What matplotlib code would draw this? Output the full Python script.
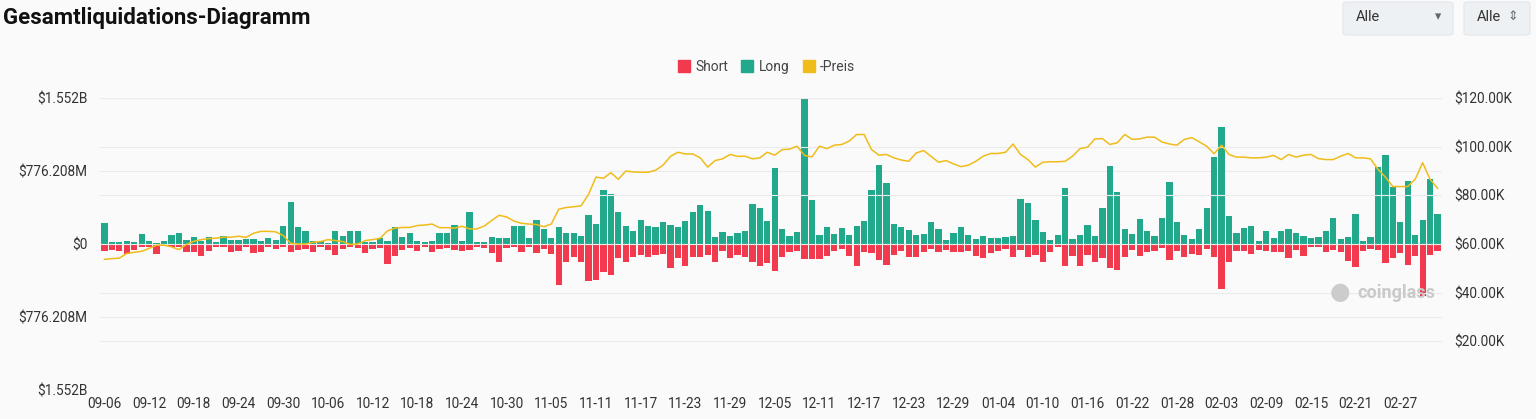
import pandas as pd
import numpy as np
import matplotlib.pyplot as plt
from matplotlib.lines import Line2D
from matplotlib.patches import FancyBboxPatch

plt.rcParams['font.family'] = ['Roboto', 'DejaVu Sans']

# daily values, 2024-09-06 .. 2025-03-04
dates = pd.date_range("2024-09-06", periods=180, freq="D")

# long liquidations, $M (drawn upward)
long_liq = [220, 18, 18, 28, 21, 103, 28, 11, 28, 96, 113, 46, 71, 35, 71, 18, 89, 46, 46, 53,
            53, 35, 64, 42, 195, 443, 177, 138, 35, 35, 11, 135, 85, 135, 142, 18,
            18, 60, 28, 184, 71, 117, 35, 25, 35, 117, 117, 202, 35, 343, 25, 18, 71, 60, 60, 188,
            188, 64, 255, 159, 64, 181, 117, 120, 89, 308, 216, 574, 535, 336, 188, 142,
            255, 195, 177, 237, 202, 177, 248, 343, 411, 347, 78, 124, 89, 113, 142, 428, 379, 248,
            811, 159, 81, 124, 1552, 471, 92, 184, 106, 166, 99, 191, 244, 574, 836, 648, 216, 184,
            145, 96, 103, 230, 156, 42, 113, 181, 99, 53, 81, 64, 67, 71, 89, 478, 435, 258, 124, 42,
            96, 591, 53, 99, 205, 85, 379, 825, 549, 156, 110, 262, 142, 89, 273,
            655, 230, 99, 50, 156, 382, 920, 1246, 297, 113, 166, 195, 35, 135, 67, 142, 163, 113,
            81, 64, 71, 142, 280, 50, 71, 322, 32, 71, 814, 945, 605, 230, 673, 99, 251, 690, 315]

# short liquidations, $M (drawn downward)
short_liq = [78, 60, 78, 103, 60, 35, 35, 106, 18, 35, 35, 89, 89, 124, 71, 35, 35, 89, 71, 35,
             99, 89, 35, 53, 35, 89, 64, 53, 81, 35, 60, 113, 53, 35, 46, 99,
             53, 46, 212, 124, 64, 46, 78, 35, 89, 53, 46, 64, 78, 64, 35, 46, 99, 195, 46, 35,
             89, 35, 96, 53, 110, 432, 195, 142, 195, 389, 379, 301, 329, 152, 195, 135,
             117, 142, 117, 106, 258, 152, 230, 142, 142, 113, 188, 78, 152, 117, 142, 195, 230, 202,
             283, 142, 89, 78, 159, 159, 159, 124, 78, 53, 131, 230, 89, 99, 174, 223, 117, 78,
             142, 142, 89, 53, 89, 64, 89, 89, 71, 124, 152, 99, 71, 53, 135, 64, 135, 113, 188, 81,
             35, 237, 124, 230, 113, 188, 152, 258, 273, 135, 60, 124, 81, 71, 46,
             166, 78, 142, 106, 113, 53, 142, 478, 188, 71, 71, 106, 64, 78, 89, 89, 152, 64,
             124, 28, 28, 89, 64, 89, 177, 248, 71, 53, 64, 202, 152, 96, 223, 124, 549, 117, 71]

# price, $K
price = [53.7, 54.0, 54.2, 56.1, 56.6, 57.0, 58.2, 59.5, 59.5, 58.8, 57.7, 59.8, 61.1, 61.8, 62.2,
         62.4, 62.8, 62.8, 63.2, 62.7, 64.4, 65.2, 65.2, 65.0, 63.5, 60.3, 60.0, 60.0, 60.7, 61.0,
         61.8, 61.4, 61.0, 59.8, 60.0, 61.4,
         61.8, 62.3, 65.4, 66.5, 66.8, 66.8, 67.6, 67.8, 68.2, 66.7, 66.7, 66.5, 67.3, 66.2, 66.2,
         67.4, 69.7, 71.8, 71.1, 69.4, 68.5, 68.2, 68.0, 67.1, 68.2, 74.3, 75.0, 75.3, 75.7, 80.4,
         87.5, 87.0, 89.3, 86.6, 90.0, 89.6,
         89.5, 89.5, 90.3, 92.4, 96.0, 97.7, 97.0, 97.0, 95.4, 91.6, 94.3, 95.0, 96.8, 96.0, 96.1,
         95.0, 95.4, 97.7, 96.5, 98.8, 99.0, 100.2, 96.4, 95.8, 100.2, 99.2, 100.6, 100.9, 102.3,
         105.0, 105.0, 98.8, 96.5, 96.8, 95.4, 94.5,
         94.0, 97.4, 98.4, 96.0, 93.6, 94.3, 92.9, 91.8, 92.4, 94.0, 96.1, 97.2, 97.2, 97.7, 101.1,
         96.8, 94.7, 91.6, 93.6, 93.8, 93.8, 94.0, 96.1, 99.2, 99.8, 103.2, 103.3, 100.9, 101.6,
         105.0, 103.0, 103.2, 103.9, 103.9, 101.9, 101.1,
         100.6, 103.0, 103.7, 102.0, 100.2, 97.1, 100.6, 96.8, 95.7, 95.7, 95.4, 95.4, 95.7, 96.4,
         94.7, 96.8, 95.7, 96.5, 96.8, 95.1, 94.7, 94.7, 96.1, 97.2, 95.4, 95.4, 95.0, 90.7, 87.5,
         83.6, 83.6, 83.6, 86.6, 93.4, 86.6, 82.9]

left_ticks = [-1552.416, -776.208, 0, 776.208, 1552.416]
left_labels = ["$1.552B", "$776.208M", "$0", "$776.208M", "$1.552B"]
right_ticks = [20, 40, 60, 80, 100, 120]
right_labels = ["$20.00K", "$40.00K", "$60.00K", "$80.00K", "$100.00K", "$120.00K"]

green = "#22a98b"
red = "#f23a4e"
gold = "#f0bc1a"
bg = "#fafafa"
txt = "#333333"

fig = plt.figure(figsize=(15.36, 4.19), dpi=100, facecolor=bg)
ax = fig.add_axes([100 / 1536, 29 / 419, 1342 / 1536, 292 / 419])
x = np.arange(len(dates))

ax.bar(x, long_liq, width=0.84, color=green, zorder=3)
ax.bar(x, [-v for v in short_liq], width=0.84, color=red, zorder=3)
ax.set_xlim(-0.6, 179.6)
ax.set_ylim(-1552.416, 1552.416)
ax.set_yticks(left_ticks)
ax.set_yticklabels(left_labels)
ax.set_xticks(x[::6])
ax.set_xticklabels([d.strftime("%m-%d") for d in dates[::6]])
for s in ax.spines.values():
    s.set_visible(False)
ax.tick_params(axis="both", length=0, labelsize=9.8, colors=txt)
ax.tick_params(axis="y", pad=9)
ax.tick_params(axis="x", pad=5)
ax.grid(axis="y", color="#ebebeb", lw=0.8, zorder=0)
ax.set_facecolor(bg)

ax2 = ax.twinx()
ax2.plot(x, price, color=gold, lw=1.1, zorder=4)
ax2.set_ylim(0, 120)
ax2.set_yticks(right_ticks)
ax2.set_yticklabels(right_labels)
for s in ax2.spines.values():
    s.set_visible(False)
ax2.tick_params(axis="y", length=0, labelsize=9.8, colors=txt, pad=9)
ax2.grid(axis="y", color="#ebebeb", lw=0.8, zorder=0)
# price line drawn over the bars
ax2.set_zorder(ax.get_zorder() + 1)
ax2.patch.set_visible(False)

fig.text(3 / 1536, 1 - 18 / 419, "Gesamtliquidations-Diagramm", fontsize=16,
         fontweight="bold", color="#111111", va="center", ha="left")

handles = [Line2D([], [], marker="s", ls="", color=red, markersize=8),
           Line2D([], [], marker="s", ls="", color=green, markersize=8),
           Line2D([], [], marker="s", ls="", color=gold, markersize=8)]
fig.legend(handles, ["Short", "Long", "-Preis"], loc="center", bbox_to_anchor=(766 / 1536, 1 - 67 / 419),
           ncol=3, frameon=False, fontsize=10, handletextpad=0.3, columnspacing=0.9,
           handlelength=1.0, labelcolor="#444444")

# dropdowns at top right
for (x0, w, label, arrow) in [(1343, 110, "Alle", "\u25be"), (1464, 66, "Alle", "\u21d5")]:
    box = FancyBboxPatch((x0 / 1536, 1 - 35 / 419), w / 1536, 33 / 419,
                         boxstyle="round,pad=0,rounding_size=0.004", transform=fig.transFigure,
                         facecolor="#eef1f4", edgecolor="#e3e6ea", lw=0.8)
    fig.patches.append(box)
    fig.text((x0 + 13) / 1536, 1 - 17 / 419, label, fontsize=10.5, color="#333333", va="center")
    fig.text((x0 + w - 12) / 1536, 1 - 17 / 419, arrow, fontsize=9, color="#666666",
             va="center", ha="right")

# watermark
fig.text(1357 / 1536, 1 - 293 / 419, "coinglass", fontsize=13, fontweight="bold",
         color="#c9c9c9", va="center", ha="left")
fig.text(1340 / 1536, 1 - 292 / 419, "\u25cf", fontsize=17, color="#cccccc", va="center", ha="center")

fig.savefig("out.png", dpi=100, facecolor=bg)
